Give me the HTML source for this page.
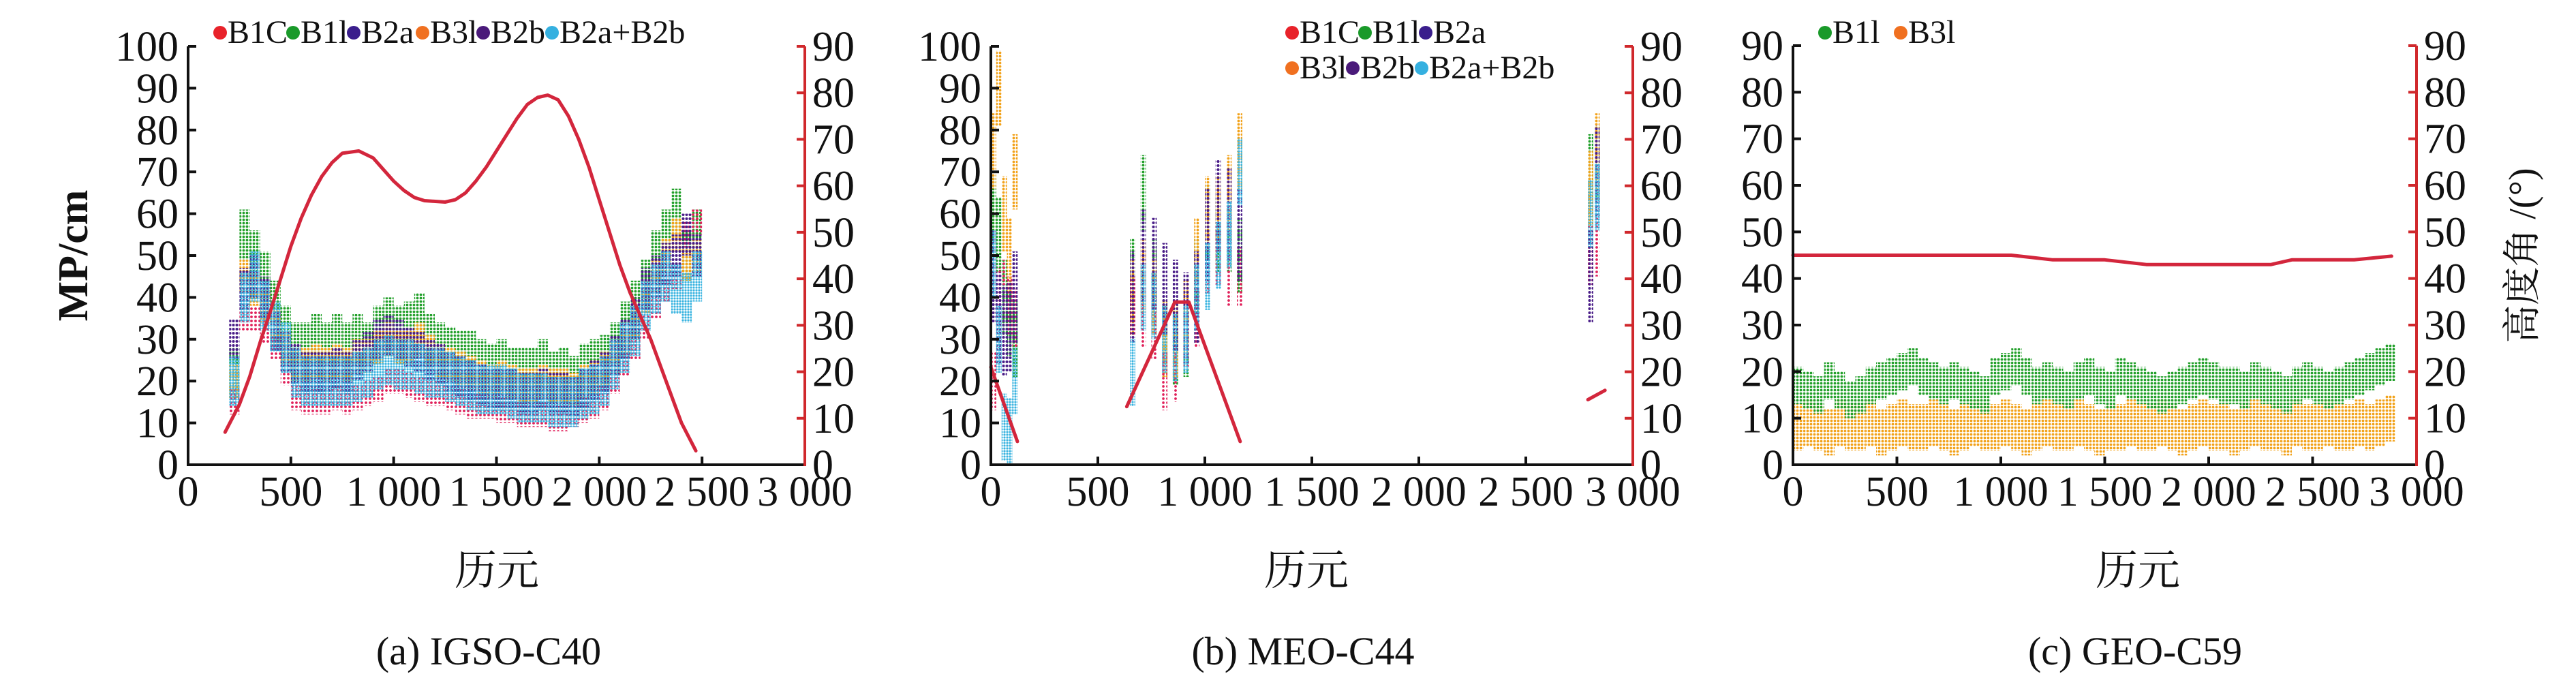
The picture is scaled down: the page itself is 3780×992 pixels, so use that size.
<!DOCTYPE html>
<html><head><meta charset="utf-8"><style>
html,body{margin:0;padding:0;background:#fff;}
svg{display:block;}
text{font-family:"Liberation Serif","Noto Serif CJK SC",serif;fill:#111;}
</style></head><body>
<svg id="fig" width="3780" height="992" viewBox="0 0 3780 992" xmlns="http://www.w3.org/2000/svg">
<defs>
<pattern id="p-green" width="5" height="5" patternUnits="userSpaceOnUse"><circle cx="2.5" cy="2.5" r="1.9" fill="#22a02a"/></pattern>
<pattern id="p-orange" width="5" height="5" patternUnits="userSpaceOnUse"><circle cx="2.5" cy="2.5" r="1.9" fill="#f2a21a"/></pattern>
<pattern id="p-red" width="6" height="6" patternUnits="userSpaceOnUse"><circle cx="3" cy="3" r="1.9" fill="#e0205a"/></pattern>
<pattern id="p-purple" width="5" height="6" patternUnits="userSpaceOnUse"><circle cx="2.5" cy="3" r="2" fill="#4a1e88"/></pattern>
<pattern id="p-cyan" width="4" height="4" patternUnits="userSpaceOnUse"><circle cx="2" cy="2" r="1.6" fill="#3ab4e0"/></pattern>
</defs>
</svg>
<script>
// ---------- Panel (a) IGSO-C40 ----------
const aEpochs=[200,250,300,350,400,450,500,550,600,650,700,750,800,850,900,950,1000,1050,1100,1150,1200,1250,1300,1350,1400,1450,1500,1550,1600,1650,1700,1750,1800,1850,1900,1950,2000,2050,2100,2150,2200,2250,2300,2350,2400,2450];
const aB1l=[22,55,50,45,38,32,28,28,30,28,30,28,30,28,32,34,32,33,35,30,28,27,26,26,24,23,24,22,22,22,24,21,22,20,23,24,25,28,33,38,43,50,55,60,50,55];
const aB3l=[20,45,42,38,33,28,24,24,25,24,25,24,26,26,28,30,28,28,30,27,25,24,23,22,21,20,21,20,19,19,20,19,19,18,20,21,23,26,30,34,40,45,50,55,48,50];
const aB1C=[15,35,35,32,28,22,16,15,15,15,16,15,16,17,18,20,20,19,18,17,17,16,15,14,14,14,13,13,12,12,12,11,11,12,13,14,16,20,24,28,33,38,42,45,55,58];
const aB2b=[30,42,45,40,32,27,24,22,22,22,23,22,25,27,30,31,30,28,27,25,24,22,21,20,19,18,18,18,17,17,18,17,17,16,18,20,22,26,30,35,42,45,48,50,55,50];
const aB2ab=[20,40,45,38,33,28,22,20,20,20,20,20,21,22,24,25,24,24,23,22,22,21,20,19,18,18,18,17,16,16,16,15,15,15,17,18,20,24,28,32,38,42,45,42,40,45];
const aElevEpochs=[180,250,300,355,400,450,500,550,600,650,700,750,830,900,950,1000,1050,1100,1150,1250,1300,1350,1400,1450,1500,1550,1600,1650,1700,1750,1800,1850,1900,1950,2000,2050,2100,2150,2200,2250,2300,2350,2400,2470];
const aElev=[7,13,19,27,33,40,47,53,58,62,65,67,67.5,66,63.5,61,59,57.5,56.8,56.5,57,58.5,61,64,67.5,71,74.5,77.5,79,79.5,78.5,75,70,64,57,50,43,37,32,27,21,15,9,3];

// ---------- Panel (b) MEO-C44 ----------
const bEpochs=[0,25,50,75,100,650,700,750,800,850,900,950,1000,1050,1100,1150,2790,2820];
const bB1l=[60,55,40,35,30,45,65,45,30,28,30,45,58,55,55,50,70,72];
const bB3l=[75,90,60,50,70,40,45,40,30,30,35,50,60,60,65,75,66,75];
const bB1C=[20,40,42,38,35,38,35,32,20,22,30,35,48,50,45,45,50,52];
const bB2b=[45,35,32,33,40,40,50,48,42,38,35,40,55,62,60,55,45,70];
const bB2ab=[48,30,9,8,20,22,40,38,30,28,30,40,45,50,55,70,60,64];
const bElevSegs=[[0,124],[635,860,925,1165],[2790,2870]];
const bElevVals=[[21,5],[12.5,35,35,5],[14,16]];

// ---------- Panel (c) GEO-C59 ----------
const cEpochs=[0,50,100,150,200,250,300,350,400,450,500,550,600,650,700,750,800,850,900,950,1000,1050,1100,1150,1200,1250,1300,1350,1400,1450,1500,1550,1600,1650,1700,1750,1800,1850,1900,1950,2000,2050,2100,2150,2200,2250,2300,2350,2400,2450,2500,2550,2600,2650,2700,2750,2800,2850];
const cB1l=[17,16,15,18,16,14,15,17,18,19,20,21,19,18,17,18,17,16,15,19,20,21,19,17,18,17,16,18,19,17,16,19,18,17,16,15,16,17,18,19,18,17,17,16,18,17,16,15,17,18,17,16,17,18,19,20,21,22];
const cB3l=[8,9,8,7,9,8,8,9,7,8,9,8,8,9,8,7,8,9,8,8,9,8,7,8,9,8,8,9,8,7,8,8,9,8,8,9,8,7,8,9,8,8,7,8,9,8,8,7,9,8,8,9,8,8,9,8,9,10];
const cElevEpochs=[0,1050,1150,1250,1500,1700,2200,2300,2400,2700,2880];
const cElev=[45,45,44.5,44,44,43,43,43,44,44,44.8];

const ticksX=["0","500","1 000","1 500","2 000","2 500","3 000"];
const ticksXv=[0,500,1000,1500,2000,2500,3000];
const NS="http://www.w3.org/2000/svg";
const svg=document.getElementById('fig');
function mk(tag,attrs,parent){const e=document.createElementNS(NS,tag);for(const k in attrs)e.setAttribute(k,attrs[k]);(parent||svg).appendChild(e);return e;}

function panel(cfg){
  const g=mk('g',{});
  
  
  const xs=e=>cfg.x0+e/3000*(cfg.x1-cfg.x0);
  const yl=v=>cfg.y0-v/cfg.ymaxL*(cfg.y0-cfg.y1);
  const yr=d=>cfg.y0-d/90*(cfg.y0-cfg.y1);
  cfg.series.forEach(s=>{
    const sg=mk('g',{},g);
    
    
    s.vals.forEach((v,i)=>{
      const xa=xs(cfg.epochs[i]), xb=xs(cfg.epochs[i]+cfg.colW);
      const top=yl(Math.min(cfg.ymaxL,v+s.spread)), bot=yl(Math.max(0,v-s.spread));
      const r=mk('rect',{x:xa,y:top,width:xb-xa,height:bot-top,fill:'url(#'+s.pat+')'},sg);
      
      
    });
  });
  cfg.elev.forEach(seg=>{
    let d='';
    seg.e.forEach((e,i)=>{d+=(i?'L':'M')+xs(e).toFixed(1)+' '+yr(seg.v[i]).toFixed(1);});
    const p=mk('path',{d:d,fill:'none',stroke:'#d3263c','stroke-width':5,'stroke-linejoin':'round','stroke-linecap':'round'},g);
    
    
  });
  const la=mk('line',{x1:cfg.x0,y1:cfg.y1,x2:cfg.x0,y2:cfg.y0+2,stroke:'#111','stroke-width':4},g);
  
  
  const ba=mk('line',{x1:cfg.x0-2,y1:cfg.y0,x2:cfg.x1,y2:cfg.y0,stroke:'#111','stroke-width':4},g);
  
  
  const ra=mk('line',{x1:cfg.x1,y1:cfg.y1,x2:cfg.x1,y2:cfg.y0+2,stroke:'#d0282c','stroke-width':4},g);
  
  
  for(let v=0;v<=cfg.ymaxL;v+=10){
    const y=yl(v);
    if(v>0) mk('line',{x1:cfg.x0,y1:y,x2:cfg.x0+12,y2:y,stroke:'#111','stroke-width':4},g);
    const t=mk('text',{x:cfg.x0-14,y:y+21,'text-anchor':'end','font-size':62},g);
    t.textContent=String(v);
    
    
  }
  for(let d=0;d<=90;d+=10){
    const y=yr(d);
    if(d>0) mk('line',{x1:cfg.x1,y1:y,x2:cfg.x1-12,y2:y,stroke:'#d0282c','stroke-width':4},g);
    const t=mk('text',{x:cfg.x1+11,y:y+21,'text-anchor':'start','font-size':62},g);
    t.textContent=String(d);
    
    
  }
  ticksXv.forEach((e,i)=>{
    const x=xs(e);
    if(e>0&&e<3000) mk('line',{x1:x,y1:cfg.y0,x2:x,y2:cfg.y0-12,stroke:'#111','stroke-width':4},g);
    const t=mk('text',{x:x,y:cfg.y0+60,'text-anchor':'middle','font-size':62},g);
    t.textContent=ticksX[i];
    
    
  });
  const xt=mk('text',{x:cfg.xtX,y:858,'text-anchor':'middle','font-size':62},g);
  xt.textContent='历元';
  
  
  const cap=mk('text',{x:cfg.capX,y:975,'text-anchor':'middle','font-size':58},g);
  cap.textContent=cfg.caption;
  
  
  cfg.legend.forEach(row=>{
    let x=row.x;
    row.items.forEach(it=>{
      const c=mk('circle',{cx:x+10,cy:row.y-15,r:10,fill:it.c},g);
      
      
      const t=mk('text',{x:x+21,y:row.y,'font-size':48},g);
      t.textContent=it.t;
      
      
      x+=21+it.w;
    });
  });
}
const C={B1C:'#e8222a',B1l:'#1a9a2a',B2a:'#3a1e8c',B3l:'#f07020',B2b:'#4a1a7a',B2ab:'#35b0e0'};
panel({name:'panel-a-igso-c40',x0:276,x1:1181,y0:682,y1:68,ymaxL:100,epochs:aEpochs,colW:50,
  series:[{name:'b1l-series',vals:aB1l,spread:6,pat:'p-green'},{name:'b3l-series',vals:aB3l,spread:4,pat:'p-orange'},
          {name:'b1c-series',vals:aB1C,spread:3,pat:'p-red'},{name:'b2b-series',vals:aB2b,spread:5,pat:'p-purple'},
          {name:'b2a-b2b-series',vals:aB2ab,spread:6,pat:'p-cyan'}],
  elev:[{e:aElevEpochs,v:aElev}],xtX:729,capX:717,caption:'(a) IGSO-C40',
  legend:[{x:313,y:63,items:[{t:'B1C',c:C.B1C,w:86},{t:'B1l',c:C.B1l,w:68},{t:'B2a',c:C.B2a,w:80},{t:'B3l',c:C.B3l,w:68},{t:'B2b',c:C.B2b,w:80},{t:'B2a+B2b',c:C.B2ab,w:180}]}]});
panel({name:'panel-b-meo-c44',x0:1454,x1:2396,y0:682,y1:68,ymaxL:100,epochs:bEpochs,colW:25,
  series:[{name:'b1l-series',vals:bB1l,spread:9,pat:'p-green'},{name:'b3l-series',vals:bB3l,spread:9,pat:'p-orange'},
          {name:'b1c-series',vals:bB1C,spread:7,pat:'p-red'},{name:'b2b-series',vals:bB2b,spread:11,pat:'p-purple'},
          {name:'b2a-b2b-series',vals:bB2ab,spread:8,pat:'p-cyan'}],
  elev:bElevSegs.map((s,i)=>({e:s,v:bElevVals[i]})),xtX:1917,capX:1912,caption:'(b) MEO-C44',
  legend:[{x:1886,y:63,items:[{t:'B1C',c:C.B1C,w:86},{t:'B1l',c:C.B1l,w:68},{t:'B2a',c:C.B2a,w:80}]},
          {x:1886,y:115,items:[{t:'B3l',c:C.B3l,w:68},{t:'B2b',c:C.B2b,w:80},{t:'B2a+B2b',c:C.B2ab,w:180}]}]});
panel({name:'panel-c-geo-c59',x0:2631,x1:3546,y0:682,y1:67,ymaxL:90,epochs:cEpochs,colW:50,
  series:[{name:'b3l-series',vals:cB3l,spread:5,pat:'p-orange'},{name:'b1l-series',vals:cB1l,spread:4,pat:'p-green'}],
  elev:[{e:cElevEpochs,v:cElev}],xtX:3137,capX:3133,caption:'(c) GEO-C59',
  legend:[{x:2668,y:63,items:[{t:'B1l',c:C.B1l,w:90},{t:'B3l',c:C.B3l,w:70}]}]});
const yt=mk('text',{x:0,y:0,'text-anchor':'middle','font-size':62,'font-weight':'bold',transform:'translate(128,375) rotate(-90)'});
yt.textContent='MP/cm';


const rt=mk('text',{x:0,y:0,'text-anchor':'middle','font-size':56,transform:'translate(3720,375) rotate(-90)'});
rt.textContent='高度角 /(°)';


</script>
</body></html>
